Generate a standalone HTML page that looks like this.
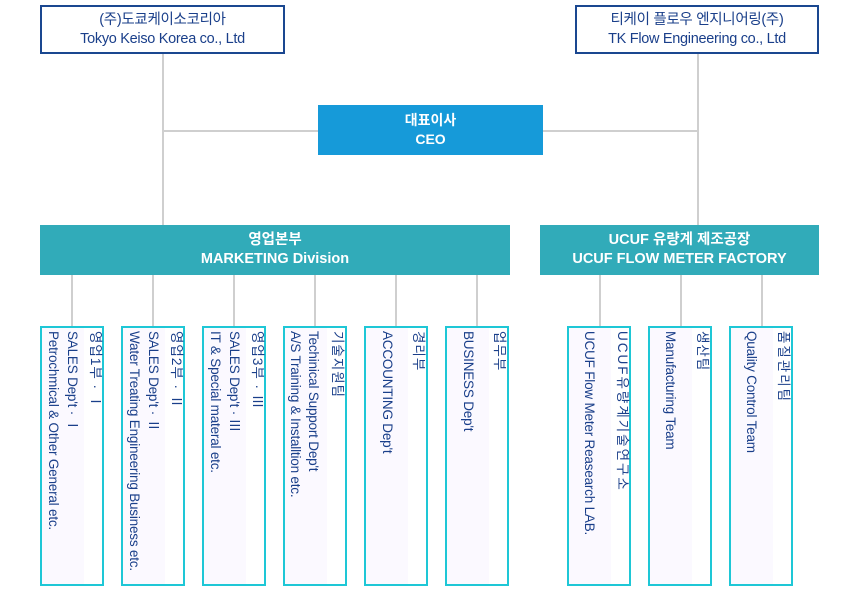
<!DOCTYPE html>
<html><head><meta charset="utf-8"><style>
body{margin:0;width:860px;height:600px;background:#fff;position:relative;overflow:hidden;font-family:"Liberation Sans","Noto Sans CJK KR",sans-serif}
.a{position:absolute}
.top{border:2.5px solid #1a4790;box-sizing:border-box;color:#1a3f8a;text-align:center;font-size:14.5px;line-height:19px;padding-top:4px;letter-spacing:-0.3px;background:#fff}
.ceo{background:#169ad9;color:#fff;text-align:center;font-size:14px;line-height:19px;font-weight:bold;padding-top:6px;box-sizing:border-box}
.div{background:#31abb9;color:#fff;text-align:center;font-size:14.5px;line-height:19px;font-weight:bold;padding-top:6px;box-sizing:border-box}
.hl{background:#cfcfcf;height:1.5px}
.vl{background:#cfcfcf;width:1.5px}
.box{border:2.5px solid #1ec7d6;box-sizing:border-box;top:326px;width:64px;height:260px;background:linear-gradient(to right,#fbf9ff 0,#fbf9ff 42px,#fff 42px)}
.t{position:absolute;top:331px;writing-mode:vertical-rl;text-orientation:sideways;font-size:13.5px;line-height:14px;color:#1a3f8a;white-space:nowrap;width:14px;letter-spacing:-0.2px}
.k{letter-spacing:1px}
</style></head><body>
<div class="a top" style="left:40px;top:5px;width:245px;height:49px">(주)도쿄케이소코리아<br>Tokyo Keiso Korea co., Ltd</div>
<div class="a top" style="left:575px;top:5px;width:244px;height:49px">티케이 플로우 엔지니어링(주)<br>TK Flow Engineering co., Ltd</div>
<div class="a vl" style="left:162px;top:54px;height:171px"></div>
<div class="a vl" style="left:697px;top:54px;height:171px"></div>
<div class="a hl" style="left:162px;top:130px;width:156px"></div>
<div class="a hl" style="left:543px;top:130px;width:155px"></div>
<div class="a ceo" style="left:318px;top:105px;width:225px;height:50px">대표이사<br>CEO</div>
<div class="a div" style="left:40px;top:225px;width:470px;height:50px">영업본부<br>MARKETING Division</div>
<div class="a div" style="left:540px;top:225px;width:279px;height:50px">UCUF 유량계 제조공장<br>UCUF FLOW METER FACTORY</div>

<div class="a vl" style="left:71px;top:275px;height:51px"></div>
<div class="a vl" style="left:152px;top:275px;height:51px"></div>
<div class="a vl" style="left:233px;top:275px;height:51px"></div>
<div class="a vl" style="left:314px;top:275px;height:51px"></div>
<div class="a vl" style="left:395px;top:275px;height:51px"></div>
<div class="a vl" style="left:476px;top:275px;height:51px"></div>
<div class="a vl" style="left:599px;top:275px;height:51px"></div>
<div class="a vl" style="left:680px;top:275px;height:51px"></div>
<div class="a vl" style="left:761px;top:275px;height:51px"></div>

<div class="a box" style="left:40px"></div>
<div class="a box" style="left:121px"></div>
<div class="a box" style="left:202px"></div>
<div class="a box" style="left:283px"></div>
<div class="a box" style="left:364px"></div>
<div class="a box" style="left:445px"></div>
<div class="a box" style="left:567px"></div>
<div class="a box" style="left:648px"></div>
<div class="a box" style="left:729px"></div>

<div class="t k" style="left:88px">영업1부 · Ⅰ</div>
<div class="t" style="left:65px">SALES Dep't · Ⅰ</div>
<div class="t" style="left:46px">Petrochmical &amp; Other General etc.</div>

<div class="t k" style="left:169px">영업2부 · Ⅱ</div>
<div class="t" style="left:146px">SALES Dep't · Ⅱ</div>
<div class="t" style="left:127px">Water Treating Engineering Business etc.</div>

<div class="t k" style="left:250px">영업3부 · Ⅲ</div>
<div class="t" style="left:227px">SALES Dep't · Ⅲ</div>
<div class="t" style="left:208px">IT &amp; Special materal etc.</div>

<div class="t k" style="left:330px">기술지원팀</div>
<div class="t" style="left:306px">Techinical Support Dep't</div>
<div class="t" style="left:288px">A/S Training &amp; Installtion etc.</div>

<div class="t k" style="left:411px">경리부</div>
<div class="t" style="left:380px">ACCOUNTING Dep't</div>

<div class="t k" style="left:492px">업무부</div>
<div class="t" style="left:461px">BUSINESS Dep't</div>

<div class="t k" style="left:615px;letter-spacing:2px">UCUF유량계기술연구소</div>
<div class="t" style="left:582px">UCUF Flow Meter Reasearch LAB.</div>

<div class="t k" style="left:695px">생산팀</div>
<div class="t" style="left:663px">Manufacturing Team</div>

<div class="t k" style="left:776px;letter-spacing:2px">품질관리팀</div>
<div class="t" style="left:744px">Quality Control Team</div>
</body></html>
